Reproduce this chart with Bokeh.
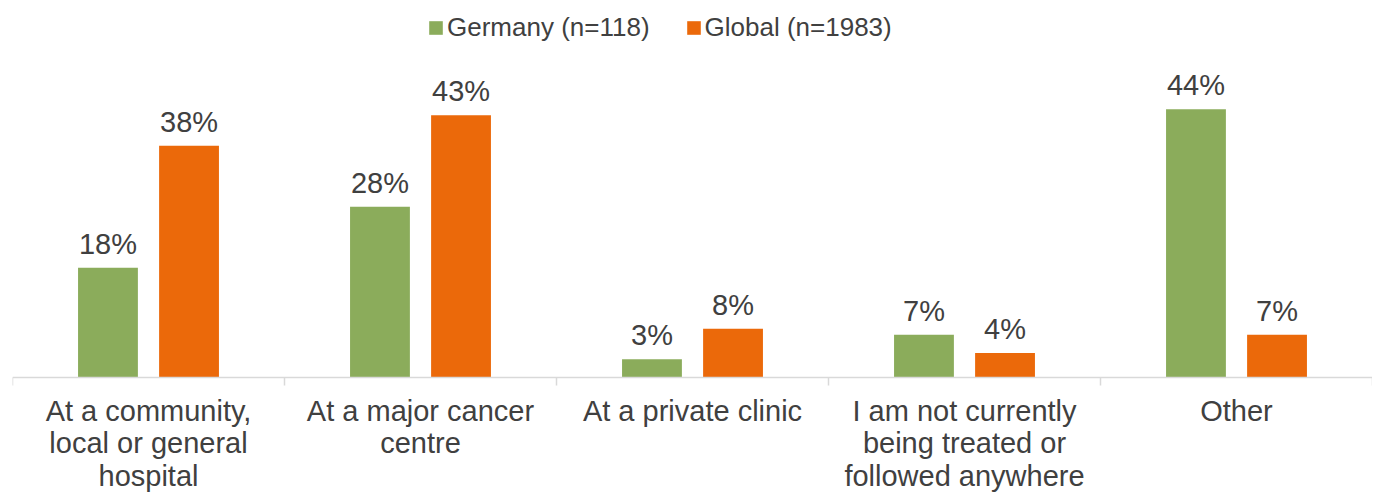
from bokeh.plotting import figure
from bokeh.models import ColumnDataSource, FactorRange, Range1d, Span, Legend, LegendItem
from bokeh.transform import dodge
from bokeh.core.properties import value
from bokeh.embed import file_html
from bokeh.resources import INLINE

# ---- data ----
categories = [
    "At a community,\nlocal or general\nhospital",
    "At a major cancer\ncentre",
    "At a private clinic",
    "I am not currently\nbeing treated or\nfollowed anywhere",
    "Other",
]
germany = [18, 28, 3, 7, 44]
global_vals = [38, 43, 8, 4, 7]
series_names = ["Germany (n=118)", "Global (n=1983)"]
series_colors = ["#8BAC5B", "#EB690A"]

FONT = "Liberation Sans"
TEXT_COLOR = "#404040"
AXIS_COLOR = "#D9D9D9"

src = ColumnDataSource(dict(
    cat=categories,
    ger=germany,
    glo=global_vals,
    ger_lbl=[f"{v}%" for v in germany],
    glo_lbl=[f"{v}%" for v in global_vals],
))
edge_src = ColumnDataSource(dict(cat=[categories[-1]]))

p = figure(
    x_range=FactorRange(factors=categories, range_padding=0),
    y_range=Range1d(-1.8, 60.5),
    frame_width=1360, frame_height=380,
    min_border_left=12, min_border_right=0, min_border_top=8, min_border_bottom=0,
    output_backend="svg", toolbar_location=None,
    outline_line_color=None,
    background_fill_color="white", border_fill_color="white",
)

offset = 0.149
bw = 0.22
r_ger = p.vbar(x=dodge("cat", -offset, range=p.x_range), top="ger", bottom=0, width=bw,
               source=src, fill_color=series_colors[0], line_color=None)
r_glo = p.vbar(x=dodge("cat", offset, range=p.x_range), top="glo", bottom=0, width=bw,
               source=src, fill_color=series_colors[1], line_color=None)

for col, lbl, off in (("ger", "ger_lbl", -offset), ("glo", "glo_lbl", offset)):
    p.text(x=dodge("cat", off, range=p.x_range), y=col, text=lbl, source=src,
           text_align="center", text_baseline="bottom", y_offset=-8,
           text_font=value(FONT), text_font_size="29px", text_color=TEXT_COLOR)

# baseline and category-boundary ticks
p.add_layout(Span(location=0, dimension="width", line_color=AXIS_COLOR, line_width=1.5))
tick_len = -8 / 6.1
p.segment(x0=dodge("cat", -0.5, range=p.x_range), x1=dodge("cat", -0.5, range=p.x_range),
          y0=0, y1=tick_len, source=src, line_color=AXIS_COLOR, line_width=1.5)
p.segment(x0=dodge("cat", 0.5, range=p.x_range), x1=dodge("cat", 0.5, range=p.x_range),
          y0=0, y1=tick_len, source=edge_src, line_color=AXIS_COLOR, line_width=1.5)

p.yaxis.visible = False
p.xgrid.grid_line_color = None
p.ygrid.grid_line_color = None
ax = p.xaxis[0]
ax.axis_line_color = None
ax.major_tick_line_color = None
ax.minor_tick_line_color = None
ax.major_tick_out = 0
ax.major_tick_in = 0
ax.major_label_standoff = 6
ax.major_label_text_font = FONT
ax.major_label_text_font_size = "29px"
ax.major_label_text_color = TEXT_COLOR
ax.major_label_text_line_height = 1.03

legend = Legend(
    items=[LegendItem(label=series_names[0], renderers=[r_ger]),
           LegendItem(label=series_names[1], renderers=[r_glo])],
    location=(415, 345), orientation="horizontal",
    glyph_width=17, glyph_height=17, label_standoff=3, spacing=35,
    padding=0, margin=0, border_line_color=None, background_fill_alpha=0,
    label_text_font=FONT, label_text_font_size="26px", label_text_color=TEXT_COLOR,
)
p.add_layout(legend)

open("out.html", "w").write(file_html(p, INLINE))
